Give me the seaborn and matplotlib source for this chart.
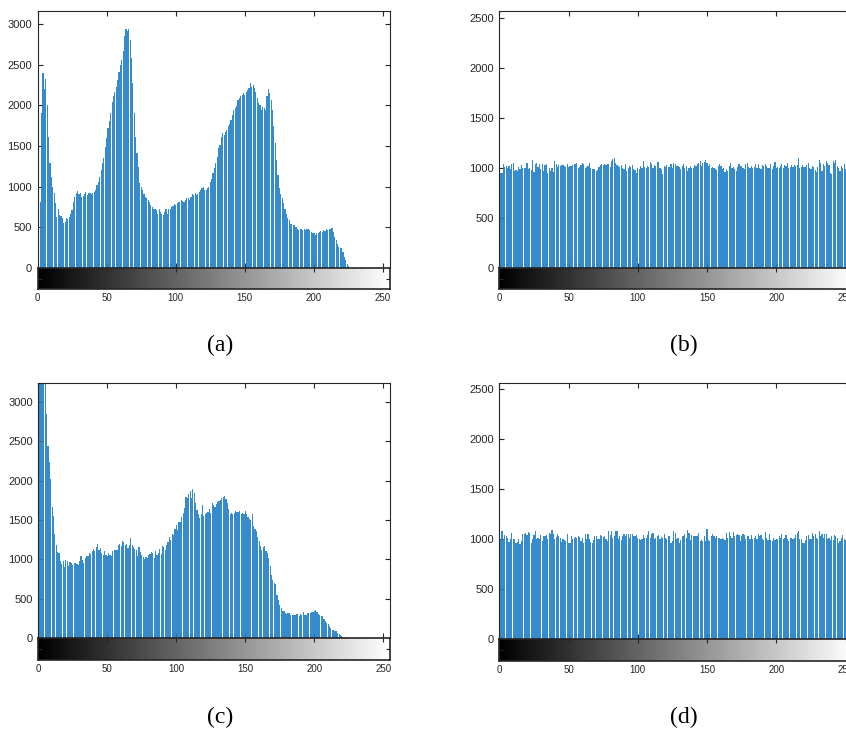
import numpy as np
import matplotlib
matplotlib.use("Agg")
import matplotlib.pyplot as plt
import seaborn as sns

sns.set_theme(style="white")
plt.rcParams["font.family"] = ["Liberation Sans", "DejaVu Sans"]

# ---------------------------------------------------------------------------
# Histogram counts (grey levels 0..255)
# ---------------------------------------------------------------------------
hist_a = [
    200, 240, 810, 1910, 2400, 2200, 2330, 2000, 1615, 1290,
    1120, 990, 920, 795, 630, 720, 650, 640, 610, 555,
    565, 610, 600, 630, 670, 710, 810, 875, 920, 945,
    915, 925, 875, 885, 910, 935, 895, 925, 925, 915,
    925, 935, 960, 1015, 1060, 1120, 1205, 1285, 1350, 1490,
    1595, 1720, 1810, 1900, 2045, 2110, 2170, 2230, 2315, 2415,
    2500, 2560, 2665, 2850, 2940, 2920, 2940, 2805, 2580, 2270,
    1910, 1615, 1410, 1245, 1040, 1000, 960, 915, 875, 855,
    835, 815, 775, 750, 730, 730, 710, 670, 730, 690,
    670, 650, 690, 730, 670, 720, 730, 745, 760, 785,
    775, 795, 815, 815, 835, 825, 815, 835, 855, 865,
    835, 875, 915, 895, 925, 895, 915, 935, 960, 980,
    1000, 965, 960, 980, 1000, 1060, 1100, 1165, 1225, 1285,
    1370, 1470, 1510, 1615, 1655, 1635, 1675, 1700, 1740, 1770,
    1820, 1880, 1945, 1965, 1995, 2065, 2090, 2110, 2130, 2150,
    2130, 2170, 2190, 2210, 2270, 2230, 2250, 2210, 2170, 2090,
    2025, 2005, 1945, 1985, 1965, 1945, 2110, 2200, 2150, 2065,
    1945, 1740, 1535, 1330, 1145, 980, 915, 855, 795, 730,
    670, 610, 590, 540, 545, 525, 525, 505, 485, 465,
    485, 475, 465, 485, 465, 485, 485, 465, 445, 430,
    425, 405, 425, 435, 445, 455, 440, 465, 455, 475,
    465, 475, 485, 495, 445, 380, 340, 300, 260, 240,
    240, 195, 135, 95, 55, 20, 5, 0, 0, 0,
    0, 0, 0, 0, 0, 0, 0, 0, 0, 0,
    0, 0, 0, 0, 0, 0, 0, 0, 0, 0,
    0, 0, 0, 0, 0, 0,
]

hist_b = [
    1050, 950, 950, 1045, 1015, 1025, 1005, 1025, 995, 1045,
    1050, 975, 980, 975, 1015, 990, 1035, 1000, 1005, 1005,
    1050, 990, 1005, 980, 1080, 960, 1040, 1050, 1015, 1040,
    990, 1045, 975, 1030, 1040, 950, 1005, 975, 1005, 965,
    1075, 1040, 1010, 1035, 1025, 1035, 1030, 1025, 1015, 1040,
    1010, 1025, 1025, 1030, 1040, 1045, 1055, 1005, 1015, 1030,
    1050, 1040, 1005, 1010, 1025, 1050, 1005, 990, 990, 995,
    975, 980, 1010, 1035, 1040, 1030, 1040, 1030, 1045, 1040,
    1015, 1075, 1090, 1105, 1055, 1035, 1025, 1015, 1035, 1005,
    990, 1040, 975, 1005, 1025, 1015, 1030, 990, 985, 955,
    1005, 990, 1025, 1005, 1075, 1015, 1005, 1025, 1015, 1065,
    1040, 1005, 1035, 1025, 1065, 1060, 1005, 990, 940, 1025,
    1010, 1035, 1010, 1010, 1040, 1005, 1050, 1040, 1025, 1025,
    1015, 990, 1025, 1040, 1005, 1025, 975, 1005, 1025, 1000,
    1005, 1035, 1025, 1045, 1055, 1075, 1025, 1050, 1065, 1080,
    1055, 1025, 1040, 1005, 1015, 1005, 990, 980, 1025, 1040,
    1025, 995, 1005, 960, 990, 975, 1025, 1050, 1005, 1015,
    990, 975, 1015, 1040, 1025, 1025, 1005, 990, 1040, 1055,
    1015, 1005, 1025, 1005, 1015, 1040, 1005, 1045, 1000, 990,
    1030, 1025, 1045, 1025, 1005, 1005, 1040, 990, 1025, 1060,
    1005, 1015, 1005, 1025, 1040, 1005, 1035, 1025, 1050, 1005,
    1010, 1030, 1015, 1035, 1025, 1030, 1100, 1005, 1015, 1030,
    1015, 1010, 1030, 1050, 1005, 990, 1025, 1015, 980, 960,
    1015, 1080, 1050, 975, 1040, 1025, 1075, 1055, 1030, 955,
    940, 1075, 1055, 1085, 1025, 1005, 975, 1020, 1000, 1040,
    995, 1010, 1030, 985, 1015, 1000,
]

hist_c = [
    3500, 3500, 3500, 3450, 3400, 3300, 2850, 2435, 2235, 2020,
    1665, 1545, 1325, 1180, 1090, 1080, 975, 940, 975, 900,
    995, 975, 920, 960, 955, 930, 950, 950, 945, 930,
    975, 1040, 995, 955, 1015, 1040, 1045, 1080, 1070, 1100,
    1130, 1100, 1155, 1195, 1120, 1145, 1080, 1060, 1100, 1060,
    1045, 1080, 1055, 1040, 1100, 1115, 1115, 1120, 1185, 1195,
    1165, 1230, 1215, 1185, 1200, 1145, 1185, 1265, 1180, 1155,
    1130, 1120, 1040, 1155, 1090, 1060, 1030, 1005, 1030, 1015,
    1060, 1070, 1090, 1080, 1015, 1100, 1060, 1080, 1130, 1070,
    1165, 1155, 1120, 1180, 1215, 1285, 1240, 1325, 1310, 1380,
    1440, 1375, 1470, 1480, 1540, 1590, 1650, 1790, 1780, 1830,
    1865, 1780, 1895, 1845, 1715, 1630, 1570, 1525, 1570, 1695,
    1555, 1580, 1590, 1600, 1640, 1590, 1710, 1695, 1665, 1700,
    1725, 1735, 1750, 1780, 1790, 1800, 1760, 1710, 1640, 1580,
    1590, 1570, 1590, 1610, 1600, 1605, 1610, 1570, 1590, 1570,
    1610, 1575, 1540, 1510, 1495, 1570, 1420, 1390, 1355, 1285,
    1230, 1175, 1120, 1150, 1165, 1100, 1080, 1015, 920, 805,
    740, 700, 680, 550, 487, 425, 380, 340, 340, 318,
    310, 315, 318, 297, 297, 288, 297, 310, 300, 284,
    310, 297, 326, 297, 297, 318, 318, 318, 326, 330,
    340, 352, 326, 310, 297, 285, 275, 242, 212, 195,
    182, 157, 127, 106, 97, 90, 85, 64, 55, 34,
    21, 12, 8, 5, 4, 4, 3, 3, 2, 2,
    1, 0, 0, 0, 0, 0, 0, 0, 0, 0,
    0, 0, 0, 0, 0, 0, 0, 0, 0, 0,
    0, 0, 0, 0, 0, 0,
]

hist_d = [
    1005, 1000, 1085, 1000, 1040, 1035, 1015, 975, 1005, 1060,
    1000, 1005, 960, 975, 1000, 955, 985, 1050, 1050, 1060,
    1040, 1075, 1060, 960, 1000, 1045, 1085, 1005, 1015, 1005,
    1040, 985, 1035, 1035, 1040, 1000, 1065, 1050, 1090, 1050,
    1000, 1025, 1050, 1035, 1015, 975, 1005, 990, 985, 1050,
    965, 965, 1035, 1005, 1015, 1025, 1015, 1035, 1025, 985,
    1015, 965, 1050, 1000, 1050, 1000, 975, 965, 990, 1035,
    1035, 1000, 1000, 1045, 1030, 1025, 1035, 1000, 985, 1080,
    1040, 1080, 1010, 1035, 1080, 1080, 1000, 1035, 990, 1035,
    1050, 1035, 1055, 1050, 1010, 1050, 1055, 1035, 1035, 1040,
    1015, 1000, 990, 1000, 1045, 1015, 1015, 1045, 1085, 1015,
    1050, 1060, 1000, 1015, 1035, 1045, 1000, 1025, 1010, 1050,
    1015, 1000, 1030, 1035, 965, 985, 1080, 1060, 1000, 1015,
    965, 990, 1035, 1035, 1050, 1015, 1095, 1065, 995, 1040,
    1035, 1035, 1030, 1030, 1065, 985, 990, 985, 1035, 985,
    1100, 990, 985, 1035, 1050, 1035, 1015, 1035, 1015, 1015,
    1000, 1010, 1000, 990, 1060, 1010, 1075, 1035, 1010, 1075,
    1035, 1045, 1050, 1045, 985, 1035, 1050, 1045, 1000, 1035,
    1035, 1000, 1040, 1000, 1015, 1035, 1000, 1050, 1035, 1045,
    1000, 990, 1075, 1015, 995, 1050, 995, 985, 1015, 990,
    1000, 1000, 1035, 1015, 1050, 1000, 1015, 1045, 1000, 985,
    1015, 1015, 1000, 1015, 1040, 1060, 1080, 1000, 1005, 965,
    965, 995, 1035, 1045, 1000, 1000, 1065, 1035, 1050, 1015,
    1000, 1085, 1035, 1055, 1015, 1050, 1055, 1000, 1015, 990,
    1035, 990, 1040, 1035, 1015, 960, 985, 1010, 1040, 1000,
    995, 1025, 1005, 1040, 990, 1020,
]

panel_labels = ["(a)", "(b)", "(c)", "(d)"]
xticks = [0, 50, 100, 150, 200, 250]

BLUE = "#1f7fc6"
INK = "#262626"
W, H = 846, 730

fig = plt.figure(figsize=(W / 100, H / 100), dpi=100)


def px_axes(left, right, top, bottom):
    # axes placed by pixel box (figure origin at top-left, like the screenshot)
    return fig.add_axes([left / W, 1 - bottom / H, (right - left) / W, (bottom - top) / H])


def draw_panel(counts, box, ymax, yticks, label, label_xy):
    left, right, top, zero, cb_bottom = box
    ax = px_axes(left, right, top, zero)
    cax = px_axes(left, right, zero, cb_bottom)

    levels = np.arange(len(counts))
    sns.histplot(x=levels, weights=counts, discrete=True, shrink=0.85,
                 color=BLUE, alpha=0.9, linewidth=0, ax=ax)
    ax.set_xlim(0, 255)
    ax.set_ylim(0, ymax)
    ax.set_yticks(yticks)
    ax.set_xticks(xticks)
    ax.set_xlabel("")
    ax.set_ylabel("")
    ax.tick_params(axis="both", direction="in", length=3.5, width=0.8, color=INK,
                   top=True, right=True, bottom=True, left=True,
                   labelbottom=False, labelsize=8, labelcolor=INK, pad=4)
    for s in ax.spines.values():
        s.set_color(INK)
        s.set_linewidth(0.8)

    # grey-level bar under the histogram
    cax.imshow(np.arange(256)[None, :], cmap="gray", aspect="auto",
               extent=(0, 255, 0, 1), interpolation="bilinear")
    cax.set_xlim(0, 255)
    cax.set_ylim(0, 1)
    cax.set_xticks(xticks)
    cax.set_yticks([0.5])
    cax.set_yticklabels([])
    cax.tick_params(axis="x", direction="in", length=3, width=0.8, color=INK,
                    top=True, bottom=False, labelbottom=True,
                    labelsize=7, labelcolor=INK, pad=3)
    cax.tick_params(axis="y", direction="in", length=3, width=0.8, color=INK,
                    left=True, right=True)
    for s in cax.spines.values():
        s.set_color(INK)
        s.set_linewidth(1.2)

    fig.text(label_xy[0] / W, 1 - label_xy[1] / H, label, ha="center", va="center",
             fontsize=17, family=["Liberation Serif", "DejaVu Serif"], color="black")


draw_panel(hist_a, (37.5, 390, 11, 268, 289), 3160, range(0, 3001, 500),
           panel_labels[0], (220, 345))
draw_panel(hist_b, (499.3, 852.5, 11, 268, 289), 2570, range(0, 2501, 500),
           panel_labels[1], (684, 345))
draw_panel(hist_c, (38.3, 390.2, 383, 638, 660), 3240, range(0, 3001, 500),
           panel_labels[2], (220, 717))
draw_panel(hist_d, (499.3, 852.5, 383, 639, 661), 2560, range(0, 2501, 500),
           panel_labels[3], (684, 717))

fig.savefig("out.png", dpi=100)
